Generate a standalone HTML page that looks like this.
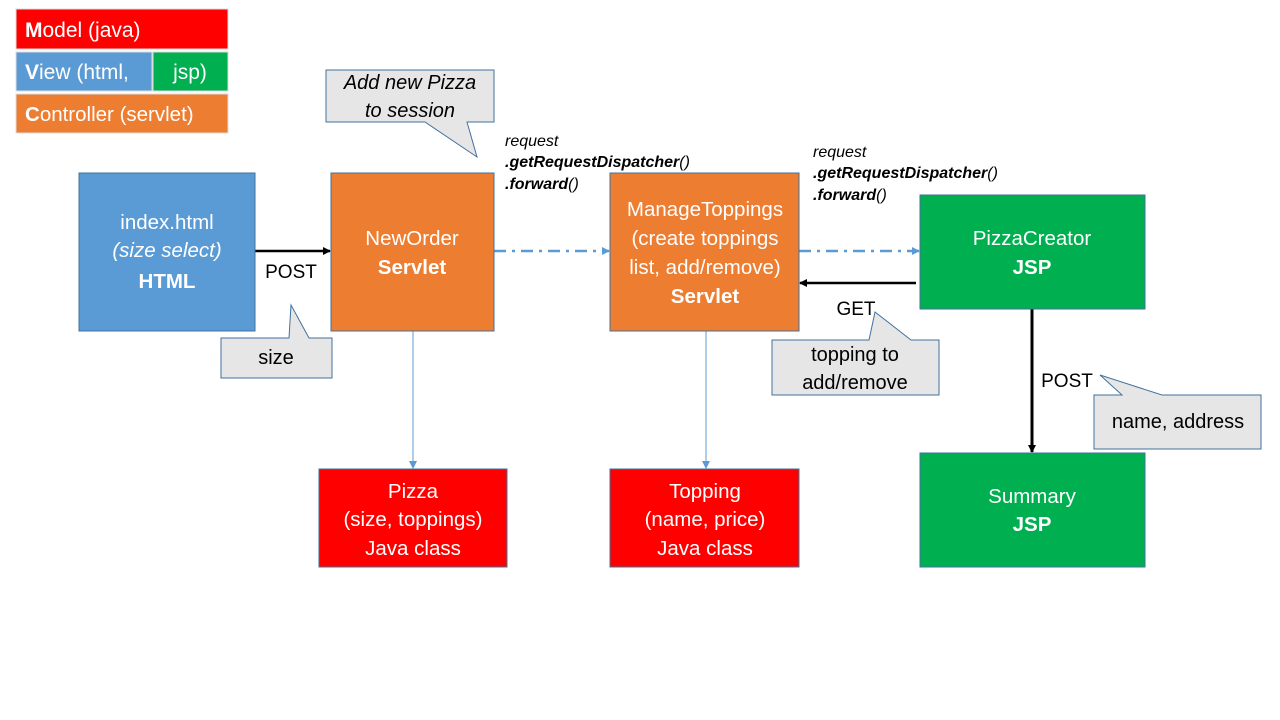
<!DOCTYPE html>
<html><head><meta charset="utf-8"><style>
body{margin:0;background:#fff}
svg{display:block}
text{font-family:"Liberation Sans",sans-serif}
</style></head><body>
<svg width="1280" height="720" viewBox="0 0 1280 720">
<defs>
<marker id="ab" markerWidth="8" markerHeight="8" refX="7" refY="4" orient="auto" markerUnits="userSpaceOnUse"><path d="M0,0 L8,4 L0,8 Z" fill="#000"/></marker>
<marker id="abl" markerWidth="8" markerHeight="8" refX="7" refY="4" orient="auto" markerUnits="userSpaceOnUse"><path d="M0,0 L8,4 L0,8 Z" fill="#5b9bd5"/></marker>
</defs>
<!-- legend -->
<rect x="16" y="9" width="212" height="40" fill="#ff0000" stroke="#ddd"/>
<text x="25" y="37" font-size="21" fill="#fff"><tspan font-weight="bold">M</tspan>odel (java)</text>
<rect x="16" y="52" width="136" height="39" fill="#5b9bd5" stroke="#ddd"/>
<text x="25" y="79" font-size="21" fill="#fff"><tspan font-weight="bold">V</tspan>iew (html,</text>
<rect x="153" y="52" width="75" height="39" fill="#00b050" stroke="#ddd"/>
<text x="190" y="79" font-size="21" fill="#fff" text-anchor="middle">jsp)</text>
<rect x="16" y="94" width="212" height="39" fill="#ed7d31" stroke="#ddd"/>
<text x="25" y="121" font-size="20.5" fill="#fff"><tspan font-weight="bold">C</tspan>ontroller (servlet)</text>

<!-- connectors -->
<line x1="255" y1="251" x2="330" y2="251" stroke="#000" stroke-width="2.5" marker-end="url(#ab)"/>
<line x1="494" y1="251" x2="609" y2="251" stroke="#5b9bd5" stroke-width="2.5" stroke-dasharray="12,6,3,6" marker-end="url(#abl)"/>
<line x1="799" y1="251" x2="919" y2="251" stroke="#5b9bd5" stroke-width="2.5" stroke-dasharray="12,6,3,6" marker-end="url(#abl)"/>
<line x1="916" y1="283" x2="800" y2="283" stroke="#000" stroke-width="2.5" marker-end="url(#ab)"/>
<line x1="1032" y1="309" x2="1032" y2="452" stroke="#000" stroke-width="3" marker-end="url(#ab)"/>
<line x1="413" y1="331" x2="413" y2="468" stroke="#5b9bd5" stroke-width="1" marker-end="url(#abl)"/>
<line x1="706" y1="331" x2="706" y2="468" stroke="#5b9bd5" stroke-width="1" marker-end="url(#abl)"/>

<!-- boxes -->
<rect x="79" y="173" width="176" height="158" fill="#5b9bd5" stroke="#41719c"/>
<text x="167" y="229" font-size="20.5" fill="#fff" text-anchor="middle">index.html</text>
<text x="167" y="257" font-size="20.5" fill="#fff" text-anchor="middle" font-style="italic">(size select)</text>
<text x="167" y="288" font-size="20.5" fill="#fff" text-anchor="middle" font-weight="bold">HTML</text>

<rect x="331" y="173" width="163" height="158" fill="#ed7d31" stroke="#41719c"/>
<text x="412" y="245" font-size="20.5" fill="#fff" text-anchor="middle">NewOrder</text>
<text x="412" y="274" font-size="20.5" fill="#fff" text-anchor="middle" font-weight="bold">Servlet</text>

<rect x="610" y="173" width="189" height="158" fill="#ed7d31" stroke="#41719c"/>
<text x="705" y="216" font-size="20.5" fill="#fff" text-anchor="middle">ManageToppings</text>
<text x="705" y="245" font-size="20.5" fill="#fff" text-anchor="middle">(create toppings</text>
<text x="705" y="274" font-size="20.5" fill="#fff" text-anchor="middle">list, add/remove)</text>
<text x="705" y="303" font-size="20.5" fill="#fff" text-anchor="middle" font-weight="bold">Servlet</text>

<rect x="920" y="195" width="225" height="114" fill="#00b050" stroke="#41719c"/>
<text x="1032" y="245" font-size="20.5" fill="#fff" text-anchor="middle">PizzaCreator</text>
<text x="1032" y="274" font-size="20.5" fill="#fff" text-anchor="middle" font-weight="bold">JSP</text>

<rect x="920" y="453" width="225" height="114" fill="#00b050" stroke="#41719c"/>
<text x="1032" y="503" font-size="20.5" fill="#fff" text-anchor="middle">Summary</text>
<text x="1032" y="531" font-size="20.5" fill="#fff" text-anchor="middle" font-weight="bold">JSP</text>

<rect x="319" y="469" width="188" height="98" fill="#ff0000" stroke="#41719c"/>
<text x="413" y="498" font-size="20.5" fill="#fff" text-anchor="middle">Pizza</text>
<text x="413" y="526" font-size="20.5" fill="#fff" text-anchor="middle">(size, toppings)</text>
<text x="413" y="555" font-size="20.5" fill="#fff" text-anchor="middle">Java class</text>

<rect x="610" y="469" width="189" height="98" fill="#ff0000" stroke="#41719c"/>
<text x="705" y="498" font-size="20.5" fill="#fff" text-anchor="middle">Topping</text>
<text x="705" y="526" font-size="20.5" fill="#fff" text-anchor="middle">(name, price)</text>
<text x="705" y="555" font-size="20.5" fill="#fff" text-anchor="middle">Java class</text>

<!-- callouts -->
<path d="M326,70 H494 V122 H467 L477,157 L425,122 H326 Z" fill="#e7e6e6" stroke="#41719c"/>
<text x="410" y="89" font-size="20" text-anchor="middle" font-style="italic">Add new Pizza</text>
<text x="410" y="117" font-size="20" text-anchor="middle" font-style="italic">to session</text>

<path d="M221,338 H289 L291,305 L309,338 H332 V378 H221 Z" fill="#e7e6e6" stroke="#41719c"/>
<text x="276" y="364" font-size="20" text-anchor="middle">size</text>

<path d="M772,340 H869 L875,312 L911,340 H939 V395 H772 Z" fill="#e7e6e6" stroke="#41719c"/>
<text x="855" y="361" font-size="20" text-anchor="middle">topping to</text>
<text x="855" y="389" font-size="20" text-anchor="middle">add/remove</text>

<path d="M1094,395 H1122 L1100,375 L1162,395 H1261 V449 H1094 Z" fill="#e7e6e6" stroke="#41719c"/>
<text x="1178" y="428" font-size="20" text-anchor="middle">name, address</text>

<!-- labels -->
<text x="291" y="278" font-size="19" text-anchor="middle">POST</text>
<text x="856" y="315" font-size="19" text-anchor="middle">GET</text>
<text x="1067" y="387" font-size="19" text-anchor="middle">POST</text>

<text x="505" y="146" font-size="16" font-style="italic">request</text>
<text x="505" y="167" font-size="16" font-style="italic"><tspan font-weight="bold">.getRequestDispatcher</tspan>()</text>
<text x="505" y="189" font-size="16" font-style="italic"><tspan font-weight="bold">.forward</tspan>()</text>
<text x="813" y="157" font-size="16" font-style="italic">request</text>
<text x="813" y="178" font-size="16" font-style="italic"><tspan font-weight="bold">.getRequestDispatcher</tspan>()</text>
<text x="813" y="200" font-size="16" font-style="italic"><tspan font-weight="bold">.forward</tspan>()</text>
</svg>
</body></html>
